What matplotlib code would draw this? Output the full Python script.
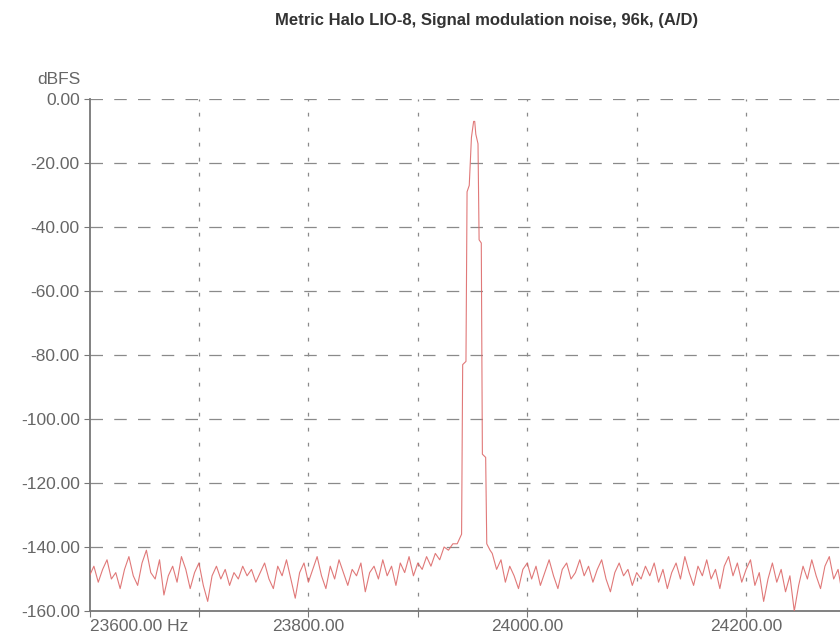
import numpy as np
import matplotlib
matplotlib.use("Agg")
import matplotlib.pyplot as plt
from matplotlib.ticker import FixedLocator, FuncFormatter

# Spectrum of a single test tone, 4 Hz bins, dBFS
bin_hz = 4
lo_start = 23600
noise_lo = [
    -149, -146, -151, -147, -144, -150, -148, -153, -147, -143,
    -149, -152, -145, -141, -148, -150, -144, -155, -149, -146,
    -151, -143, -147, -153, -148, -145, -152, -157, -149, -146,
    -150, -147, -152, -148, -150, -146, -149, -147, -151, -148,
    -145, -150, -153, -146, -149, -144, -150, -156, -148, -145,
    -151, -147, -143, -149, -153, -146, -150, -144, -148, -152,
    -147, -149, -145, -154, -148, -146, -150, -144, -149, -146,
    -152, -145, -148, -143, -149, -145, -147, -143, -146, -142,
    -144, -140, -141, -139,
]
hi_start = 23968
noise_hi = [
    -142, -147, -144, -151, -146, -149, -153, -147, -145, -150,
    -146, -152, -148, -144, -149, -153, -147, -145, -150, -148,
    -144, -149, -146, -151, -147, -144, -150, -154, -148, -145,
    -149, -147, -152, -148, -150, -146, -149, -145, -151, -147,
    -153, -148, -145, -150, -143, -148, -152, -146, -149, -144,
    -150, -147, -153, -146, -143, -149, -145, -151, -147, -144,
    -152, -148, -157, -150, -145, -151, -147, -154, -149, -160,
    -152, -146, -150, -144, -149, -153, -146, -143, -150, -147,
    -155, -149, -145, -151,
]
# Fine-resolution samples across the tone
peak_hz = [23936, 23940, 23941, 23944, 23945, 23947, 23949, 23951,
           23952, 23953, 23955, 23956, 23958, 23959, 23962, 23963, 23966]
peak_db = [-139, -136, -83, -82, -29, -27, -12, -7,
           -7, -11, -14, -44, -45, -111, -112, -139, -141]

y_ticks = [0, -20, -40, -60, -80, -100, -120, -140, -160]
x_ticks = [23600, 23700, 23800, 23900, 24000, 24100, 24200, 24300]
x_labels = {23600: "23600.00 Hz", 23800: "23800.00",
            24000: "24000.00", 24200: "24200.00"}

f_lo = lo_start + bin_hz * np.arange(len(noise_lo))
f_hi = hi_start + bin_hz * np.arange(len(noise_hi))
freq = np.concatenate([f_lo, np.array(peak_hz), f_hi])
level = np.concatenate([np.array(noise_lo), np.array(peak_db), np.array(noise_hi)])
order = np.argsort(freq, kind="stable")
freq, level = freq[order], level[order]

plt.rcParams["font.family"] = ["Liberation Sans", "DejaVu Sans"]

fig = plt.figure(figsize=(8.4, 6.42), dpi=100)
W, H = 840, 642
left_px, right_px, top_px, bottom_px = 89.5, 965, 99, 611
ax = fig.add_axes([left_px / W, 1 - bottom_px / H,
                   (right_px - left_px) / W, (bottom_px - top_px) / H])

ax.plot(freq, level, color="#dd6a6a", lw=0.8, alpha=0.9, zorder=3)

ax.set_xlim(23600, 24400)
ax.set_ylim(-160, 0)

ax.yaxis.set_major_locator(FixedLocator(y_ticks))
ax.yaxis.set_major_formatter(FuncFormatter(lambda v, p: f"{v:.2f}" if v != 0 else "0.00"))
ax.xaxis.set_major_locator(FixedLocator(x_ticks))
ax.xaxis.set_major_formatter(FuncFormatter(lambda v, p: x_labels.get(int(round(v)), "")))

ax.tick_params(axis="both", direction="out", length=4, width=0.8,
               color="#777777", labelcolor="#666666", labelsize=12.5)
ax.tick_params(axis="y", pad=3)
ax.tick_params(axis="x", pad=2)
for lab in ax.get_xticklabels():
    if lab.get_text().endswith("Hz"):
        lab.set_horizontalalignment("left")

# Horizontal grid: long dashes; vertical grid: short dashes
for y in y_ticks[:-1]:
    ax.axhline(y, color="#8a8a8a", lw=0.9, dashes=(10, 9), zorder=1)
for x in x_ticks[1:]:
    ax.axvline(x, color="#8a8a8a", lw=0.9, dashes=(3, 9), zorder=1)

for s in ["top", "right"]:
    ax.spines[s].set_visible(False)
for s in ["left", "bottom"]:
    ax.spines[s].set_color("#777777")
    ax.spines[s].set_linewidth(1.3)

fig.text(80 / W, 1 - 79 / H, "dBFS", ha="right", va="center",
         fontsize=12.5, color="#666666")
fig.text(487 / W, 1 - 20 / H, "Metric Halo LIO-8, Signal modulation noise, 96k, (A/D)",
         ha="center", va="center", fontsize=12, fontweight="bold", color="#333333")

fig.savefig("out.png", dpi=100)
